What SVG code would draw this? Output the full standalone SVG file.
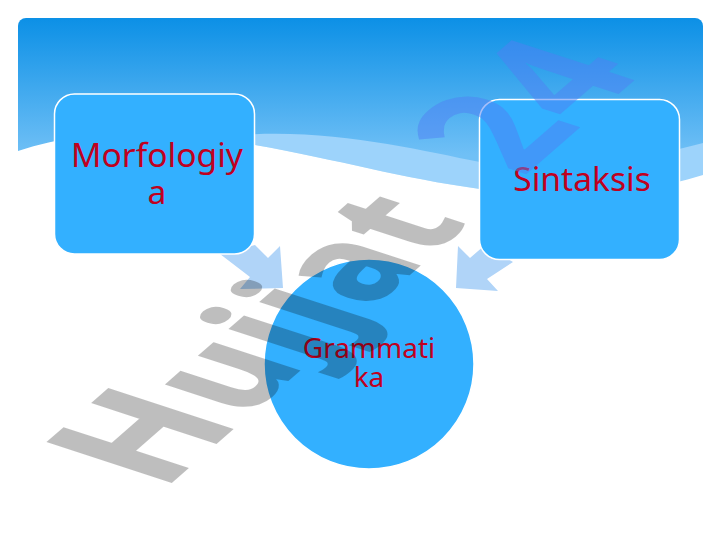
<svg xmlns="http://www.w3.org/2000/svg" width="720" height="540" viewBox="0 0 720 540">
<style>
.n{fill:#33b0ff;stroke:#fff;stroke-width:1.5}
.t{font-family:"Noto Sans",sans-serif;fill:#c00020;text-anchor:middle}
.a{fill:#b0d4f8}
.w{font-family:"Noto Sans",sans-serif;font-weight:bold;font-size:100px}
</style>
<defs>
<linearGradient id="g" gradientUnits="userSpaceOnUse" x1="0" y1="18" x2="0" y2="155">
<stop offset="0" stop-color="#0c90e6"/><stop offset="1" stop-color="#70c0f6"/>
</linearGradient>
<clipPath id="c"><rect x="18" y="18" width="685" height="300" rx="8"/></clipPath>
</defs>
<rect width="720" height="540" fill="#fff"/>
<g clip-path="url(#c)">
<rect x="18" y="18" width="685" height="200" fill="url(#g)"/>
<path d="M240 145V135C330 128 420 150 480 162C560 175 640 160 703 143V176C640 196 570 198 480 189C400 178 340 160 255 145Z" fill="#9dd3fb"/>
</g>
<path d="M10 230V154L18 151C100 125 170 130 255 145C340 160 400 178 480 189C570 198 640 195 703 175L710 173V230Z" fill="#fff"/>
<g id="connectors">
<polygon class="a" points="220,254 250,277 240,289 283,288 280,246 268,258 255,245"/>
<polygon class="a" points="458,246 470,258 485,245 513,262 487,279 498,291 456,288"/>
</g>
<g id="morfologiya">
<rect class="n" x="54.500" y="94" width="200" height="160" rx="20"/>
<text class="t" font-size="33.600" x="157" y="167">Morfologiy</text>
<text class="t" font-size="33.600" x="157" y="204">a</text>
</g>
<g id="sintaksis">
<rect class="n" x="479.500" y="99.500" width="200" height="160" rx="20"/>
<text class="t" font-size="33.600" x="582" y="191">Sintaksis</text>
</g>
<g id="grammatika">
<circle class="n" cx="369" cy="364" r="105"/>
<text class="t" font-size="28" x="369" y="358">Grammati</text>
<text class="t" font-size="28" x="369" y="387">ka</text>
</g>
<g id="watermark">
<text class="w" transform="matrix(1.03 -.9 1.72 .56 162 490)" fill="#000" opacity=".25" stroke="#000" stroke-width="1.5">H<tspan font-size="90" letter-spacing="3" dx="4">ujjat</tspan></text>
<text class="w" transform="matrix(1.08 -.94 1.72 .56 522 178)" fill="#5080f4" fill-opacity=".5">24</text>
</g>
</svg>
